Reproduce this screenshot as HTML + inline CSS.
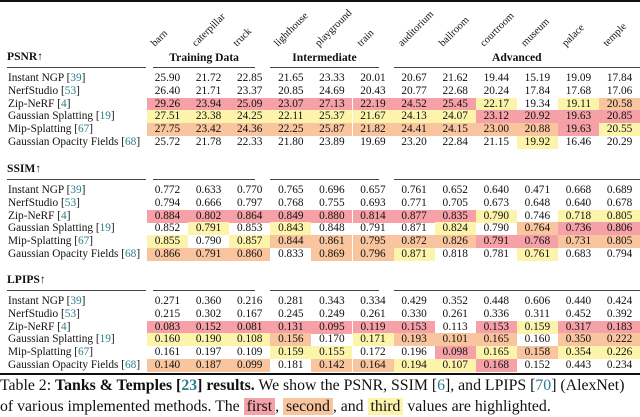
<!DOCTYPE html>
<html><head><meta charset="utf-8">
<style>
body{margin:0;background:#fff;}
#t{position:relative;width:640px;height:417px;overflow:hidden;font-family:"Liberation Serif",serif;color:#111;}
.a{position:absolute;white-space:nowrap;}
.lbl{font-size:11.3px;line-height:13px;}
.v{font-size:11.3px;line-height:13px;text-align:center;width:41px;}
.ref{color:#2b7d8c;}
.hd{font-weight:bold;font-size:11.6px;}
.rot{font-size:10.4px;transform-origin:0 100%;transform:rotate(-45deg);line-height:10px;}
.ln{position:absolute;background:#444;height:1px;}
</style></head>
<body>
<div id="t">
<div class="a" style="left:0;top:0;width:640px;height:2px;background:#111"></div>
<div class="a" style="left:0;top:373px;width:640px;height:1.5px;background:#111"></div>
<div class="a" style="left:0;top:376px;font-size:15.8px;line-height:20px">Table 2: <b>Tanks &amp; Temples [<span class="ref">23</span>] results.</b> We show the PSNR, SSIM [<span class="ref">6</span>], and LPIPS [<span class="ref">70</span>] (AlexNet)</div>
<div class="a" style="left:0;top:397px;font-size:15.8px;line-height:20px">of various implemented methods. The <span style="background:#f5a1a7;padding:0 3px">first</span>, <span style="background:#f9c59e;padding:0 3px">second</span>, and <span style="background:#fdf4ab;padding:0 3px">third</span> values are highlighted.</div>
</div>
<script>
const scenes=["barn","caterpillar","truck","lighthouse","playground","train","auditorium","ballroom","courtroom","museum","palace","temple"];
const groups=["Training Data","Intermediate","Advanced"];
const methods=["Instant NGP","NerfStudio","Zip-NeRF","Gaussian Splatting","Mip-Splatting","Gaussian Opacity Fields"];
const refs=["39","53","4","19","67","68"];
const metrics=["PSNR↑","SSIM↑","LPIPS↑"];
const psnr=[["25.90","21.72","22.85","21.65","23.33","20.01","20.67","21.62","19.44","15.19","19.09","17.84"],
["26.40","21.71","23.37","20.85","24.69","20.43","20.77","22.68","20.24","17.84","17.68","17.06"],
["29.26","23.94","25.09","23.07","27.13","22.19","24.52","25.45","22.17","19.34","19.11","20.58"],
["27.51","23.38","24.25","22.11","25.37","21.67","24.13","24.07","23.12","20.92","19.63","20.85"],
["27.75","23.42","24.36","22.25","25.87","21.82","24.41","24.15","23.00","20.88","19.63","20.55"],
["25.72","21.78","22.33","21.80","23.89","19.69","23.20","22.84","21.15","19.92","16.46","20.29"]];
const ssim=[["0.772","0.633","0.770","0.765","0.696","0.657","0.761","0.652","0.640","0.471","0.668","0.689"],
["0.794","0.666","0.797","0.768","0.755","0.693","0.771","0.705","0.673","0.648","0.640","0.678"],
["0.884","0.802","0.864","0.849","0.880","0.814","0.877","0.835","0.790","0.746","0.718","0.805"],
["0.852","0.791","0.853","0.843","0.848","0.791","0.871","0.824","0.790","0.764","0.736","0.806"],
["0.855","0.790","0.857","0.844","0.861","0.795","0.872","0.826","0.791","0.768","0.731","0.805"],
["0.866","0.791","0.860","0.833","0.869","0.796","0.871","0.818","0.781","0.761","0.683","0.794"]];
const lpips=[["0.271","0.360","0.216","0.281","0.343","0.334","0.429","0.352","0.448","0.606","0.440","0.424"],
["0.215","0.302","0.167","0.245","0.249","0.261","0.330","0.261","0.336","0.311","0.452","0.392"],
["0.083","0.152","0.081","0.131","0.095","0.119","0.153","0.113","0.153","0.159","0.317","0.183"],
["0.160","0.190","0.108","0.156","0.170","0.171","0.193","0.101","0.165","0.160","0.350","0.222"],
["0.161","0.197","0.109","0.159","0.155","0.172","0.196","0.098","0.165","0.158","0.354","0.226"],
["0.140","0.187","0.099","0.181","0.142","0.164","0.194","0.107","0.168","0.152","0.443","0.234"]];
const psnrRank=["000000000000","000000000000","111111113032","333333331111","222222222213","000000000300"];
const ssimRank=["000000000000","000000000000","111111113033","030300030211","303222221122","222022300300"];
const lpipsRank=["000000000000","000000000000","111111101311","333203222022","000330013233","222022331000"];
const tables=[psnr,ssim,lpips], ranks=[psnrRank,ssimRank,lpipsRank];
const colors=["", "#f5a1a7","#f9c59e","#fdf4ab"];
const T=document.getElementById('t');
const colX=i=>147+41.1*i;
const sectionTop=[57,169,280];
function mk(cls,html,x,y){const d=document.createElement('div');d.className='a '+cls;d.innerHTML=html;d.style.left=x+'px';d.style.top=y+'px';T.appendChild(d);return d;}
scenes.forEach((s,i)=>{const d=mk('rot',s,colX(i)+10,39);

});
const groupSpan=[[0,3],[3,6],[6,12]];
groups.forEach((g,k)=>{const x0=colX(groupSpan[k][0])+(k==0?6:0), x1=k==2?640:colX(groupSpan[k][1])-15;
const d=mk('hd',g,x0,51);d.style.width=(x1-x0)+'px';d.style.textAlign='center';

});
sectionTop.forEach((st,m)=>{
 const h=mk('hd',metrics[m],7,st-7);
 
 
 const lines=[[7,146]].concat(groupSpan.map((g,k)=>[k==0?colX(0)+6:colX(g[0]),k==2?640:colX(g[1])-15]));
 lines.forEach((l,k)=>{const d=document.createElement('div');d.className='ln';d.style.left=l[0]+'px';d.style.width=(l[1]-l[0])+'px';d.style.top=(st+10)+'px';
 
 
 T.appendChild(d);});
 methods.forEach((mt,r)=>{const y=st+15+r*12.8;
  const l=mk('lbl',mt+' [<span class="ref">'+refs[r]+'</span>]',8,y);
  
  
  tables[m][r].forEach((v,c)=>{const d=mk('v',v,colX(c),y);
   const rk=+ranks[m][r][c]; if(rk) d.style.background=colors[rk];
   d.style.height='13px';
   
   });
 });
});
</script>
</body></html>
